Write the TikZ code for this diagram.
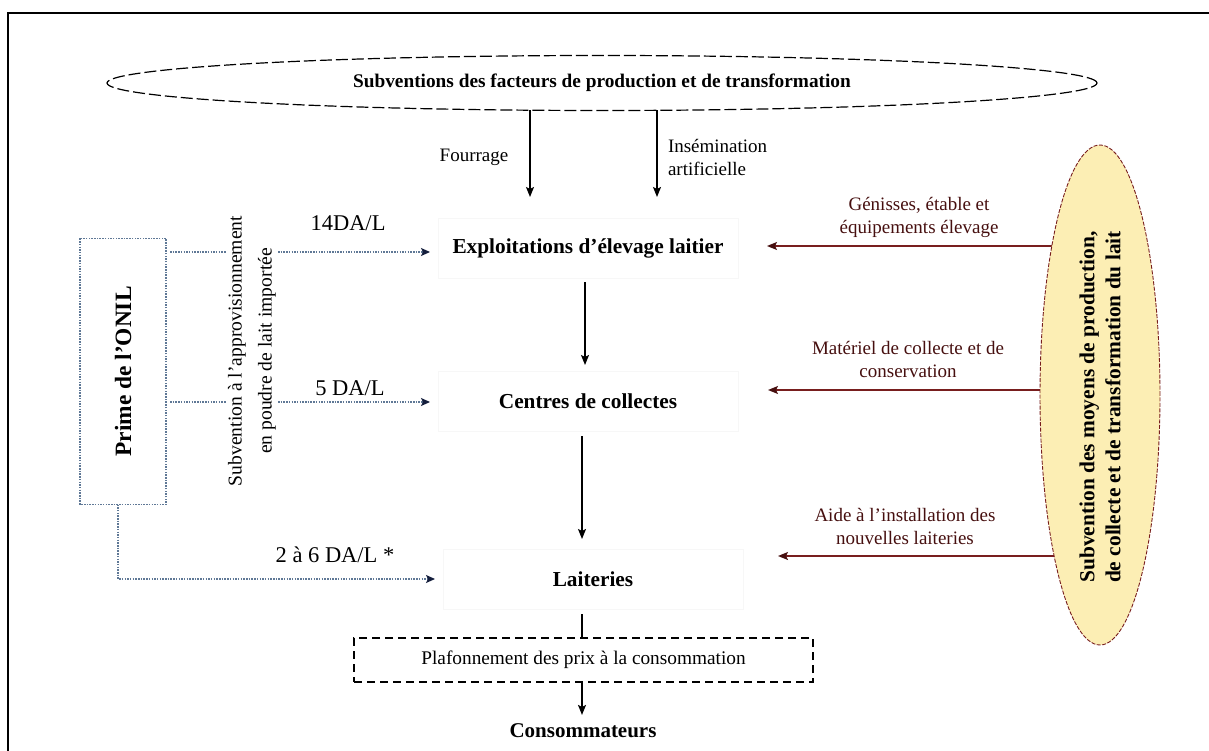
\documentclass[tikz,border=0pt]{standalone}
\usepackage{fontspec}
\setmainfont{Liberation Serif}
\usetikzlibrary{shapes.geometric,arrows.meta,backgrounds}
\definecolor{brn}{RGB}{120,30,30}
\definecolor{lbl}{RGB}{70,15,15}
\definecolor{dotc}{RGB}{95,120,150}
\definecolor{navy}{RGB}{20,30,60}
\definecolor{yel}{RGB}{252,238,180}
\begin{document}
\begin{tikzpicture}[x=1pt,y=-1pt,
  every node/.style={inner sep=0pt,outer sep=0pt},
  stage/.style={draw=black!3,line width=0.8,minimum width=300pt,minimum height=60pt,font=\fontsize{21.3}{24}\selectfont\bfseries},
  blk/.style={-{Stealth[length=10pt,width=8pt,inset=2pt]},line width=1.3},
  dotarrow/.style={dotc,line width=1.3,dash pattern=on 1.5pt off 1.2pt,-{Stealth[length=9pt,width=8pt,inset=2pt,sep=0pt,color=navy]}},
  redarrow/.style={brn,line width=1.3,-{Stealth[length=10pt,width=8pt,inset=2pt,color=lbl]}},
  lab/.style={font=\fontsize{19}{23}\selectfont,align=center},
  rlab/.style={font=\fontsize{19}{23}\selectfont,align=center,text=lbl},
  da/.style={font=\fontsize{22.5}{26}\selectfont}
]
\useasboundingbox (0,0) rectangle (1209,751);
\draw[line width=1.6] (1215,13) -- (8,13) -- (8,760);

% top ellipse
\node[ellipse,draw,line width=1.2,dash pattern=on 12pt off 4pt,minimum width=990pt,minimum height=55pt,
  font=\fontsize{19.3}{22}\selectfont\bfseries] (top) at (602,83) {Subventions des facteurs de production et de transformation};
\coordinate (f1) at (530,197);
\coordinate (f2) at (657,197);
\draw[blk] (top.south -| f1) -- (f1);
\draw[blk] (top.south -| f2) -- (f2);
\node[lab] (four) at (474,157) {Fourrage};
\node[lab,anchor=west,align=left] (insem) at (668,157) {Insémination\\artificielle};

% stages
\node[stage] (expl) at (588,248) {Exploitations d’élevage laitier};
\node[stage] (cent) at (588,401) {Centres de collectes};
\node[stage] (lait) at (593,579) {Laiteries};
\node[draw,line width=1.6,dash pattern=on 8pt off 5pt,minimum width=459pt,minimum height=44pt,
  font=\fontsize{19.3}{22}\selectfont] (plaf) at (583.5,660) {Plafonnement des prix à la consommation};
\node[font=\fontsize{21}{24}\selectfont\bfseries] (cons) at (583,731) {Consommateurs};

\coordinate (a1) at (585,0);
\coordinate (a2) at (582,0);
\draw[blk,shorten <=4pt,shorten >=6pt] (expl.south -| a1) -- (cent.north -| a1);
\draw[blk,shorten <=5pt,shorten >=10pt] (cent.south -| a2) -- (lait.north -| a2);
\draw[line width=1.3,shorten <=5pt] (lait.south -| a2) -- (plaf.north -| a2);
\draw[blk,shorten >=9pt] (plaf.south -| a2) -- (cons.north -| a2);

% left ONIL box
\node[rotate=90,draw=dotc,line width=1.3,dash pattern=on 1.5pt off 1.2pt,minimum width=266pt,minimum height=86pt,
  font=\fontsize{23.4}{26}\selectfont\bfseries] (onil) at (123,371.5) {Prime de l’ONIL};
\coordinate (y1) at (0,252);
\coordinate (y2) at (0,402);
\coordinate (b1) at (118,0);
\draw[dotarrow,shorten <=4pt,shorten >=8pt] (onil.south |- y1) -- (expl.west |- y1);
\draw[dotarrow,shorten <=4pt,shorten >=8pt] (onil.south |- y2) -- (cent.west |- y2);
\draw[dotarrow,shorten >=8pt] (onil.west -| b1) |- (lait.west);
\node[rotate=90,fill=white,inner xsep=1pt,inner ysep=2pt,font=\fontsize{19.6}{30}\selectfont,align=center] (subv) at (252,351)
  {Subvention à l’approvisionnement\\en poudre de lait importée};
\node[da] (d14) at (348,223) {14DA/L};
\node[da] (d5) at (350,388) {5 DA/L};
\node[da] (d26) at (335,555) {2 à 6 DA/L *};

% right ellipse
\node[ellipse,draw=brn,line width=0.9,dash pattern=on 4pt off 1.5pt,fill=yel,minimum width=120pt,minimum height=500pt] (sub2) at (1100,395) {};
\node[rotate=90,align=center,font=\fontsize{21.4}{26}\selectfont\bfseries] (sub2t) at (1100,407)
  {Subvention des moyens de production,\\de collecte et de transformation du lait};
\coordinate (t1) at (767,246);
\coordinate (t2) at (768,390);
\coordinate (t3) at (778,556);
\begin{scope}[on background layer]
\draw[redarrow] (sub2.center |- t1) -- (t1);
\draw[redarrow] (sub2.center |- t2) -- (t2);
\draw[redarrow] (sub2.center |- t3) -- (t3);
\end{scope}
\node[rlab] (l1) at (919,217) {Génisses, étable et\\équipements élevage};
\node[rlab] (l2) at (908,359) {Matériel de collecte et de\\conservation};
\node[rlab] (l3) at (905,526) {Aide à l’installation des\\nouvelles laiteries};
\end{tikzpicture}
\end{document}
